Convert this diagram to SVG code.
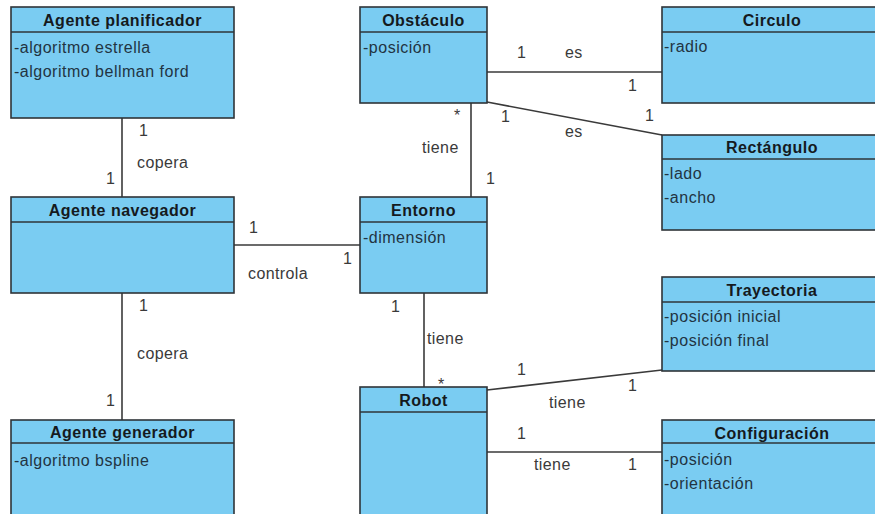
<svg xmlns="http://www.w3.org/2000/svg" width="875" height="514" viewBox="0 0 875 514">
<style>
.box{fill:#7accf2;stroke:#2f3438;stroke-width:1.6}
.div{stroke:#2f3438;stroke-width:1.6}
.t{font-family:"Liberation Sans",Arial,sans-serif;font-weight:bold;font-size:16px;fill:#151a1e;text-anchor:middle;letter-spacing:0.5px}
.a{font-family:"Liberation Sans",Arial,sans-serif;font-size:16px;fill:#223442;letter-spacing:0.5px}
.l{font-family:"Liberation Sans",Arial,sans-serif;font-size:16px;fill:#3a3a3a;letter-spacing:0.4px}
.c line{stroke:#3a3a3a;stroke-width:1.6}
</style>
<rect width="875" height="514" fill="#ffffff"/>
<g class="c" id="connectors">
<line x1="122" y1="118" x2="122" y2="197"/>
<line x1="122" y1="293" x2="122" y2="420"/>
<line x1="234" y1="245" x2="360" y2="245"/>
<line x1="471" y1="103" x2="471" y2="197"/>
<line x1="487" y1="72" x2="662" y2="72"/>
<line x1="487" y1="102" x2="662" y2="135"/>
<line x1="424" y1="293" x2="424" y2="387"/>
<line x1="487" y1="390" x2="662" y2="370"/>
<line x1="487" y1="452" x2="662" y2="452"/>
</g>
<g id="labels">
<text class="l" x="139" y="136">1</text>
<text class="l" x="137" y="168">copera</text>
<text class="l" x="106" y="184">1</text>
<text class="l" x="139" y="311">1</text>
<text class="l" x="137" y="359">copera</text>
<text class="l" x="106" y="406">1</text>
<text class="l" x="249" y="233">1</text>
<text class="l" x="248" y="279">controla</text>
<text class="l" x="343" y="264">1</text>
<text class="l" x="454" y="121">*</text>
<text class="l" x="422" y="153">tiene</text>
<text class="l" x="486" y="184">1</text>
<text class="l" x="517" y="58">1</text>
<text class="l" x="565" y="58">es</text>
<text class="l" x="628" y="91">1</text>
<text class="l" x="501" y="122">1</text>
<text class="l" x="565" y="137">es</text>
<text class="l" x="645" y="121">1</text>
<text class="l" x="391" y="312">1</text>
<text class="l" x="427" y="344">tiene</text>
<text class="l" x="438" y="390">*</text>
<text class="l" x="517" y="375">1</text>
<text class="l" x="549" y="408">tiene</text>
<text class="l" x="628" y="391">1</text>
<text class="l" x="517" y="439">1</text>
<text class="l" x="534" y="470">tiene</text>
<text class="l" x="628" y="470">1</text>
</g>
<g id="agente-planificador">
<rect class="box" x="11" y="7" width="223" height="111"/>
<line class="div" x1="11" y1="32" x2="234" y2="32"/>
<text class="t" x="122.5" y="26">Agente planificador</text>
<text class="a" x="14" y="53">-algoritmo estrella</text>
<text class="a" x="14" y="77">-algoritmo bellman ford</text>
</g>
<g id="agente-navegador">
<rect class="box" x="11" y="197" width="223" height="96"/>
<line class="div" x1="11" y1="222" x2="234" y2="222"/>
<text class="t" x="122.5" y="216">Agente navegador</text>
</g>
<g id="agente-generador">
<rect class="box" x="11" y="420" width="223" height="110"/>
<line class="div" x1="11" y1="443" x2="234" y2="443"/>
<text class="t" x="122.5" y="438">Agente generador</text>
<text class="a" x="14" y="466">-algoritmo bspline</text>
</g>
<g id="obstaculo">
<rect class="box" x="360" y="7" width="127" height="96"/>
<line class="div" x1="360" y1="32" x2="487" y2="32"/>
<text class="t" x="423.5" y="26">Obstáculo</text>
<text class="a" x="363" y="53">-posición</text>
</g>
<g id="entorno">
<rect class="box" x="360" y="197" width="127" height="96"/>
<line class="div" x1="360" y1="222" x2="487" y2="222"/>
<text class="t" x="423.5" y="216">Entorno</text>
<text class="a" x="363" y="243">-dimensión</text>
</g>
<g id="robot">
<rect class="box" x="360" y="387" width="127" height="140"/>
<line class="div" x1="360" y1="412" x2="487" y2="412"/>
<text class="t" x="423.5" y="406">Robot</text>
</g>
<g id="circulo">
<rect class="box" x="662" y="7" width="222" height="96"/>
<line class="div" x1="662" y1="32" x2="884" y2="32"/>
<text class="t" x="772" y="26">Circulo</text>
<text class="a" x="664" y="52">-radio</text>
</g>
<g id="rectangulo">
<rect class="box" x="662" y="135" width="222" height="95"/>
<line class="div" x1="662" y1="159" x2="884" y2="159"/>
<text class="t" x="772" y="153">Rectángulo</text>
<text class="a" x="664" y="179">-lado</text>
<text class="a" x="664" y="203">-ancho</text>
</g>
<g id="trayectoria">
<rect class="box" x="662" y="277" width="222" height="94"/>
<line class="div" x1="662" y1="302" x2="884" y2="302"/>
<text class="t" x="772" y="296">Trayectoria</text>
<text class="a" x="664" y="322">-posición inicial</text>
<text class="a" x="664" y="346">-posición final</text>
</g>
<g id="configuracion">
<rect class="box" x="662" y="420" width="222" height="110"/>
<line class="div" x1="662" y1="443" x2="884" y2="443"/>
<text class="t" x="772" y="439">Configuración</text>
<text class="a" x="664" y="465">-posición</text>
<text class="a" x="664" y="489">-orientación</text>
</g>
</svg>
